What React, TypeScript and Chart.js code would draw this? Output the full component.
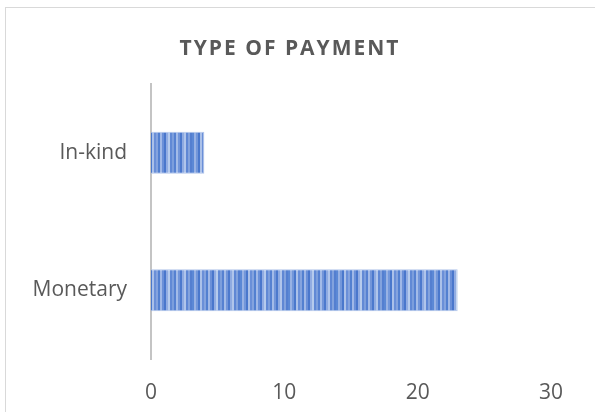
import React, { useEffect, useRef } from "react";
import { Chart, registerables } from "chart.js";

Chart.register(...registerables);

const categories = ["In-kind", "Monetary"];
const values = [4, 23];
const xTicks = [0, 10, 20, 30];
const title = "TYPE OF PAYMENT";

const stripeColors = [
  "#5b88d5", "#98b2e4", "#7397da", "#4a78cc", "#abc1e9", "#6a8fd8", "#84a3de", "#5380d0",
  "#a0b8e7", "#6b90d8", "#4a77cc", "#91ace2", "#b6cbed", "#6189d5", "#7c9edc", "#5681d1",
  "#a3bbe8", "#7295d9", "#4c79cd", "#8eaae1", "#b0c5eb", "#5f87d4", "#82a2dd", "#547fd0",
];

function makePattern(): CanvasPattern | string {
  const c = document.createElement("canvas");
  c.width = stripeColors.length * 2;
  c.height = 4;
  const ctx = c.getContext("2d");
  if (!ctx) return "#6f95d8";
  stripeColors.forEach((col, i) => {
    ctx.fillStyle = col;
    ctx.fillRect(i * 2, 0, 2, 4);
  });
  const p = ctx.createPattern(c, "repeat");
  return p || "#6f95d8";
}

const FONT = "'Open Sans', 'Noto Sans', sans-serif";

const titlePlugin = {
  id: "customTitle",
  afterDraw(chart: any) {
    const ctx = chart.ctx as CanvasRenderingContext2D;
    ctx.save();
    ctx.font = `bold 21px ${FONT}`;
    (ctx as any).letterSpacing = "2px";
    ctx.fillStyle = "#595959";
    ctx.textAlign = "center";
    ctx.textBaseline = "alphabetic";
    ctx.fillText(title, 290, 55);
    ctx.restore();
  },
};

export default function App() {
  const ref = useRef<HTMLCanvasElement | null>(null);

  useEffect(() => {
    if (!ref.current) return;
    const pattern = makePattern();
    const chart = new Chart(ref.current, {
      type: "bar",
      data: {
        labels: categories,
        datasets: [
          {
            data: values,
            backgroundColor: pattern as any,
            borderColor: "rgba(170,192,232,0.9)",
            borderWidth: 1,
            categoryPercentage: 1,
            barPercentage: 0.305,
          },
        ],
      },
      options: {
        indexAxis: "y",
        animation: false,
        responsive: false,
        maintainAspectRatio: false,
        layout: { padding: { top: 84, right: 44, left: 0, bottom: 0 } },
        plugins: {
          legend: { display: false },
          tooltip: { enabled: false },
          title: { display: false },
        },
        scales: {
          x: {
            min: 0,
            max: 30,
            afterBuildTicks: (axis: any) => {
              axis.ticks = xTicks.map((v) => ({ value: v }));
            },
            afterFit: (axis: any) => {
              axis.height = 53;
            },
            grid: { display: false, drawTicks: false },
            border: { display: false },
            ticks: {
              padding: 21,
              color: "#595959",
              font: { family: FONT, size: 21 },
              maxRotation: 0,
            },
          },
          y: {
            afterFit: (axis: any) => {
              axis.width = 151;
            },
            grid: { display: false, drawTicks: false },
            border: { display: true, color: "#c4c4c4", width: 2 },
            ticks: {
              padding: 24,
              color: "#595959",
              font: { family: FONT, size: 21 },
            },
          },
        },
      },
      plugins: [titlePlugin],
    });
    return () => chart.destroy();
  }, []);

  return (
    <div style={{ position: "fixed", left: 0, top: 0, width: 595, height: 412, background: "#fff", overflow: "hidden" }}>
      <div
        style={{
          position: "absolute",
          left: 5,
          top: 7,
          width: 620,
          height: 440,
          border: "1px solid #d9d9d9",
          boxSizing: "border-box",
        }}
      />
      <canvas ref={ref} width={595} height={412} style={{ position: "absolute", left: 0, top: 0, width: 595, height: 412 }} />
    </div>
  );
}
